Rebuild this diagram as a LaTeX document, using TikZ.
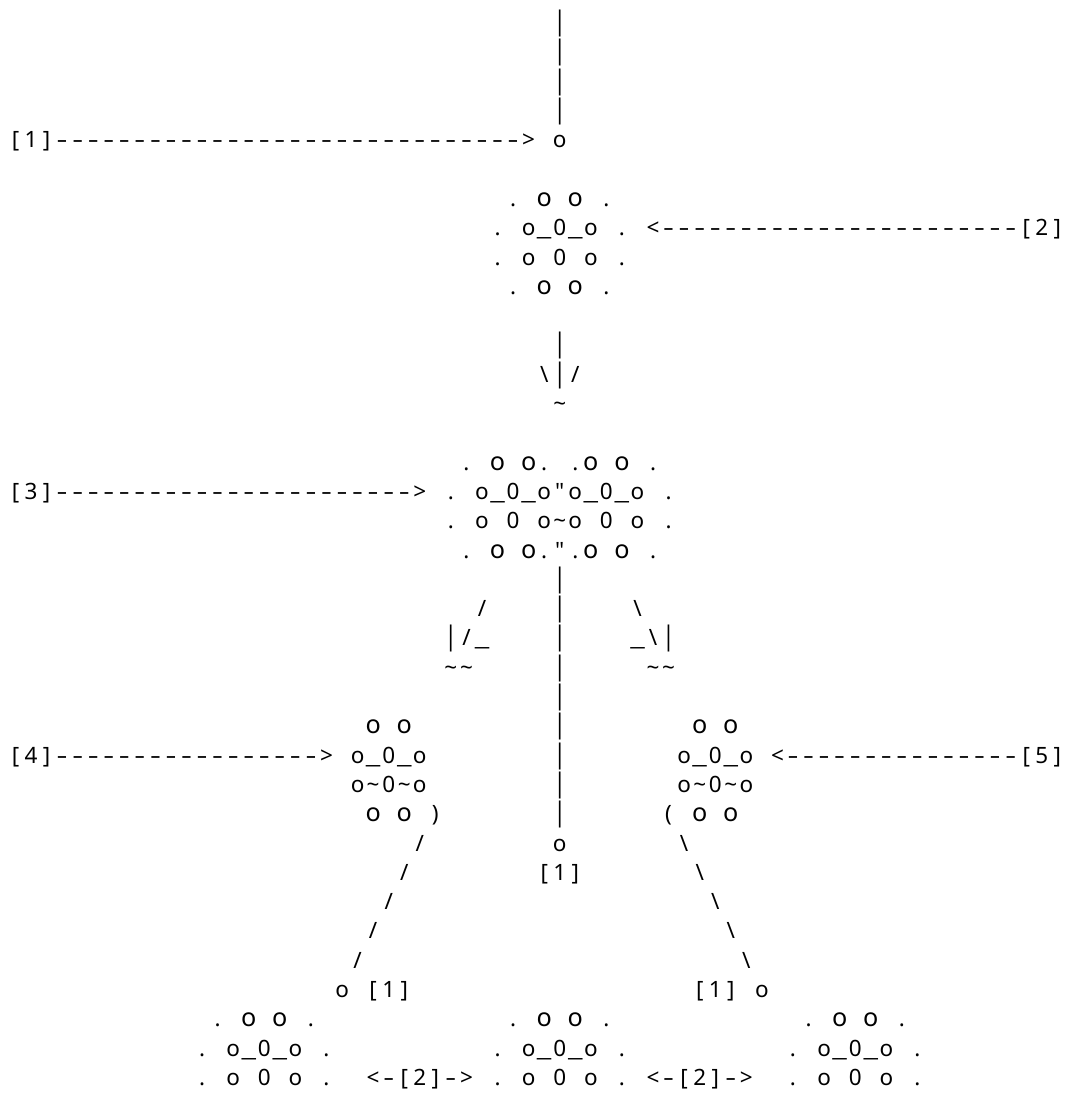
\documentclass[tikz,border=0pt]{standalone}
\usepackage{fontspec}
\setmonofont{Noto Sans}
\usepackage{graphicx}
\newlength{\cw}\setlength{\cw}{15.55pt}
\ExplSyntaxOn
\cs_new:Npn \asc_char:n #1
  {
    \makebox[\cw][c]
      {
        \str_case:nnF {#1}
          {
            {B}{\textbackslash}
            {Q}{\char34}
            {T}{\char126}
            {O}{\scalebox{1.12}{o}}
            {-}{\scalebox{1.5}[1]{-}}
            {_}{\scalebox{1.45}[1]{\char95}}
            {|}{\scalebox{1}[1.2]{|}}
          }
          {#1}
      }
  }
\NewDocumentCommand{\asc}{m}{ \str_map_inline:nn {#1} { \asc_char:n {##1} } }
\ExplSyntaxOff
\tikzset{ascii/.style={anchor=base west, inner sep=0pt, outer sep=0pt,
  font=\ttfamily\fontsize{22.5pt}{29.3pt}\selectfont, text=black}}
\newcommand{\aline}[4]{\node[ascii] (#4) at ({7.73+#2*15.55},{-(147.8+(#1-4)*29.3)}) {\asc{#3}};}
\begin{document}
\begin{tikzpicture}[x=1pt,y=1pt]
\fill[white] (0,0) rectangle (1068,-1096);
\useasboundingbox (0,0) rectangle (1068,-1096);
% top bar and node 1 arrow
\aline{0}{35}{|}{bar0}
\aline{1}{35}{|}{bar1}
\aline{2}{35}{|}{bar2}
\aline{3}{35}{|}{bar3}
\aline{4}{0}{[1]------------------------------> o}{l4}
% node 2
\aline{6}{32}{. O O .}{l6}
\aline{7}{31}{. o_0_o . <-----------------------[2]}{l7}
\aline{8}{31}{. o 0 o .}{l8}
\aline{9}{32}{. O O .}{l9}
% arrow down
\aline{11}{35}{|}{l11}
\aline{12}{34}{B|/}{l12}
\aline{13}{35}{T}{l13}
% node 3
\aline{15}{29}{. O O. .O O .}{l15}
\aline{16}{0}{[3]-----------------------> . o_0_oQo_0_o .}{l16}
\aline{17}{28}{. o 0 oTo 0 o .}{l17}
\aline{18}{29}{. O O.Q.O O .}{l18}
% split
\aline{19}{35}{|}{l19}
\aline{20}{30}{/}{l20a}
\aline{20}{35}{|}{l20b}
\aline{20}{40}{B}{l20c}
\aline{21}{28}{|/_}{l21a}
\aline{21}{35}{|}{l21b}
\aline{21}{40}{_B|}{l21c}
\aline{22}{28}{TT}{l22a}
\aline{22}{35}{|}{l22b}
\aline{22}{41}{TT}{l22c}
\aline{23}{35}{|}{l23}
% nodes 4 and 5
\aline{24}{23}{O O}{l24a}
\aline{24}{35}{|}{l24b}
\aline{24}{44}{O O}{l24c}
\aline{25}{0}{[4]-----------------> o_0_o}{l25a}
\aline{25}{35}{|}{l25b}
\aline{25}{43}{o_0_o <---------------[5]}{l25c}
\aline{26}{22}{oT0To}{l26a}
\aline{26}{35}{|}{l26b}
\aline{26}{43}{oT0To}{l26c}
\aline{27}{23}{O O )}{l27a}
\aline{27}{35}{|}{l27b}
\aline{27}{42}{( O O}{l27c}
% diagonals
\aline{28}{26}{/}{l28a}
\aline{28}{35}{o}{l28b}
\aline{28}{43}{B}{l28c}
\aline{29}{25}{/}{l29a}
\aline{29}{34}{[1]}{l29b}
\aline{29}{44}{B}{l29c}
\aline{30}{24}{/}{l30a}
\aline{30}{45}{B}{l30c}
\aline{31}{23}{/}{l31a}
\aline{31}{46}{B}{l31c}
\aline{32}{22}{/}{l32a}
\aline{32}{47}{B}{l32c}
\aline{33}{21}{o [1]}{l33a}
\aline{33}{44}{[1] o}{l33c}
% bottom row
\aline{34}{13}{. O O .}{l34a}
\aline{34}{32}{. O O .}{l34b}
\aline{34}{51}{. O O .}{l34c}
\aline{35}{12}{. o_0_o .}{l35a}
\aline{35}{31}{. o_0_o .}{l35b}
\aline{35}{50}{. o_0_o .}{l35c}
\aline{36}{12}{. o 0 o .}{l36a}
\aline{36}{23}{<-[2]->}{l36b}
\aline{36}{31}{. o 0 o .}{l36c}
\aline{36}{41}{<-[2]->}{l36d}
\aline{36}{50}{. o 0 o .}{l36e}
\end{tikzpicture}
\end{document}
